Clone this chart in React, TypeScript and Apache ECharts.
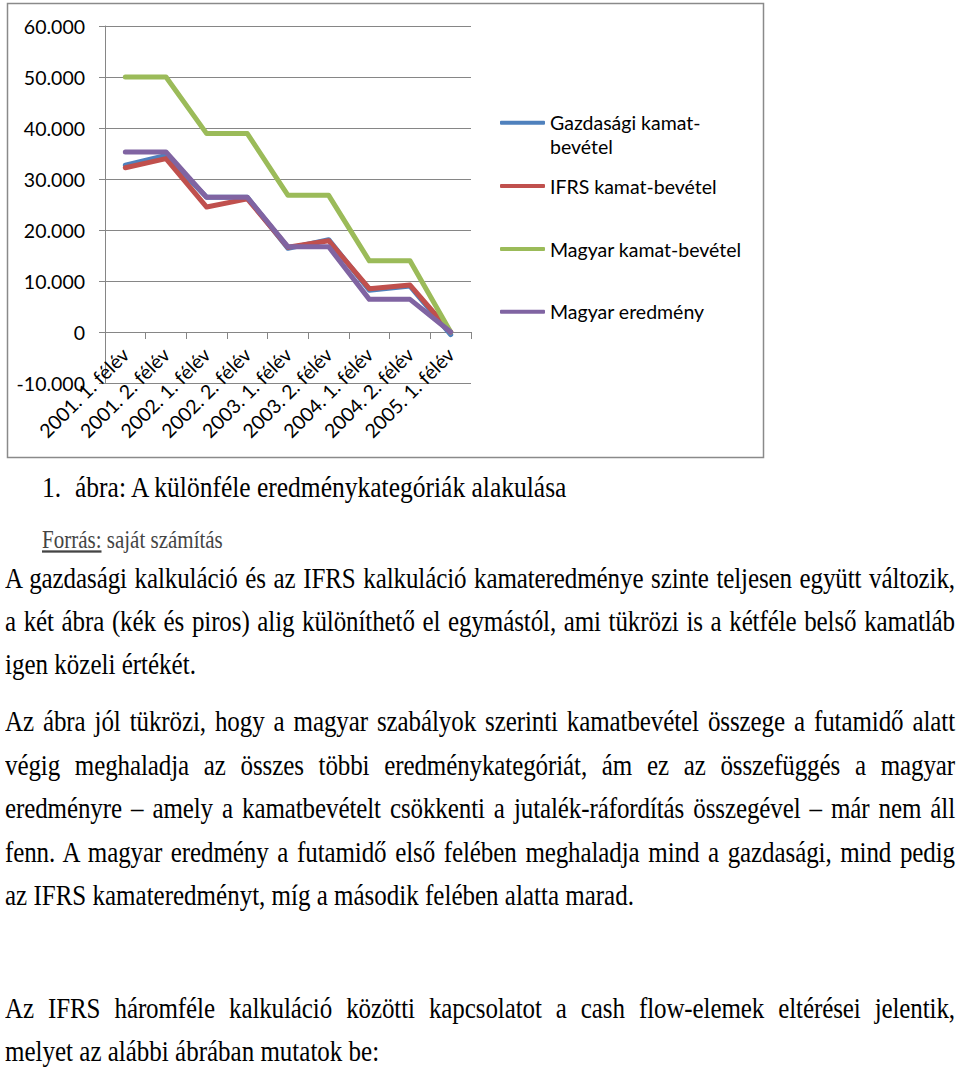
import React, { useEffect, useRef } from "react";
import * as echarts from "echarts";

const categories = [
  "2001. 1. félév",
  "2001. 2. félév",
  "2002. 1. félév",
  "2002. 2. félév",
  "2003. 1. félév",
  "2003. 2. félév",
  "2004. 1. félév",
  "2004. 2. félév",
  "2005. 1. félév",
];
const seriesNames = [
  "Gazdasági kamat-bevétel",
  "IFRS kamat-bevétel",
  "Magyar kamat-bevétel",
  "Magyar eredmény",
];
const gazdasagi = [32700, 34600, 26400, 26400, 16400, 18100, 8200, 9000, -500];
const ifrs = [32200, 34000, 24500, 26100, 16600, 17900, 8500, 9200, 0];
const magyarKamat = [50000, 50000, 38900, 38900, 26800, 26800, 13950, 13950, 0];
const magyarEredmeny = [35300, 35300, 26400, 26400, 16700, 16700, 6400, 6400, 0];
const seriesValues = [gazdasagi, ifrs, magyarKamat, magyarEredmeny];
const colors = ["#4F81BD", "#C0504D", "#9BBB59", "#8064A2"];

const caption = "ábra: A különféle eredménykategóriák alakulása";
const paragraphs: { text: string; justify: boolean; y: number }[][] = [
  [
    { text: "A gazdasági kalkuláció és az IFRS kalkuláció kamateredménye szinte teljesen együtt változik,", justify: true, y: 579 },
    { text: "a két ábra (kék és piros) alig különíthető el egymástól, ami tükrözi is a kétféle belső kamatláb", justify: true, y: 622 },
    { text: "igen közeli értékét.", justify: false, y: 665 },
  ],
  [
    { text: "Az ábra jól tükrözi, hogy a magyar szabályok szerinti kamatbevétel összege a futamidő alatt", justify: true, y: 722 },
    { text: "végig meghaladja az összes többi eredménykategóriát, ám ez az összefüggés a magyar", justify: true, y: 766 },
    { text: "eredményre – amely a kamatbevételt csökkenti a jutalék-ráfordítás összegével – már nem áll", justify: true, y: 809 },
    { text: "fenn. A magyar eredmény a futamidő első felében meghaladja mind a gazdasági, mind pedig", justify: true, y: 853 },
    { text: "az IFRS kamateredményt, míg a második felében alatta marad.", justify: false, y: 896 },
  ],
  [
    { text: "Az IFRS háromféle kalkuláció közötti kapcsolatot a cash flow-elemek eltérései jelentik,", justify: true, y: 1009 },
    { text: "melyet az alábbi ábrában mutatok be:", justify: false, y: 1052 },
  ],
];

const fmt = (v: number) => {
  if (v === 0) return "0";
  const s = Math.abs(v).toString().replace(/\B(?=(\d{3})+(?!\d))/g, ".");
  return (v < 0 ? "-" : "") + s;
};

const FONT = "Lato, 'Open Sans', sans-serif";

function Chart() {
  const ref = useRef<HTMLDivElement>(null);
  useEffect(() => {
    if (!ref.current) return;
    const chart = echarts.init(ref.current, undefined, { renderer: "svg" });
    const legendCenters = [122.7, 186, 249, 311.7];
    chart.setOption({
      animation: false,
      backgroundColor: "#ffffff",
      graphic: [
        {
          type: "rect",
          shape: { x: 7.5, y: 3.5, width: 756, height: 454 },
          style: { fill: "none", stroke: "#8a8a8a", lineWidth: 1.5 },
          silent: true,
        },
      ],
      grid: { left: 105, right: 489, top: 26, bottom: 77, containLabel: false, outerBoundsMode: "none" },
      legend: seriesNames.map((n, i) => ({
        data: [n],
        left: 500,
        top: i === 0 ? legendCenters[i] - 36 : legendCenters[i] - 12,
        orient: "vertical",
        padding: 0,
        itemGap: 0,
        itemWidth: 45,
        itemHeight: 4,
        icon: "roundRect",
        selectedMode: false,
        formatter: i === 0 ? " \nGazdasági kamat-\nbevétel" : "{name}",
        textStyle: {
          fontFamily: FONT,
          fontSize: 19.5,
          color: "#000",
          lineHeight: 24,
        },
      })),
      xAxis: {
        type: "category",
        data: categories,
        boundaryGap: true,
        axisLine: { onZero: true, lineStyle: { color: "#868686", width: 1 } },
        axisTick: { show: true, inside: false, length: 7, lineStyle: { color: "#868686" } },
        axisLabel: {
          rotate: 45,
          interval: 0,
          margin: -32,
          fontFamily: FONT,
          fontSize: 19.5,
          color: "#000",
        },
        splitLine: { show: false },
      },
      yAxis: {
        type: "value",
        min: -10000,
        max: 60000,
        interval: 10000,
        axisLine: { show: true, lineStyle: { color: "#868686", width: 1 } },
        axisTick: { show: true, length: 6, lineStyle: { color: "#868686" } },
        axisLabel: {
          margin: 20,
          fontFamily: FONT,
          fontSize: 19.5,
          color: "#000",
          formatter: (v: number) => fmt(v),
        },
        splitLine: { show: true, lineStyle: { color: "#868686", width: 1 } },
      },
      series: seriesNames.map((n, i) => ({
        name: n,
        type: "line",
        data: seriesValues[i],
        symbol: "none",
        color: colors[i],
        lineStyle: { width: 5, color: colors[i], cap: "round", join: "round" },
        z: 2 + i,
      })),
    });
    return () => chart.dispose();
  }, []);
  return <div ref={ref} style={{ position: "absolute", left: 0, top: 0, width: 960, height: 460 }} />;
}

const serif = "'Liberation Serif', 'Times New Roman', serif";

function Line({ text, justify, y, left = 5, size = 25, width = 950 }: any) {
  return (
    <div
      style={{
        position: "absolute",
        left,
        top: y - 22,
        width,
        height: 44,
        lineHeight: "44px",
        fontFamily: serif,
        fontSize: size,
        color: "#000",
        textAlign: justify ? "justify" : "left",
        textAlignLast: justify ? "justify" : "left",
        letterSpacing: justify ? "-0.1px" : undefined,
        whiteSpace: "nowrap",
        transform: "scaleY(1.15)",
        transformOrigin: "center",
      } as any}
    >
      {text}
    </div>
  );
}

export default function App() {
  return (
    <div style={{ position: "absolute", left: 0, top: 0, width: 960, height: 1069, background: "#fff", overflow: "hidden" }}>
      <Chart />
      <Line text="1." justify={false} y={488} left={42} size={25.5} width={40} />
      <Line text={caption} justify={false} y={488} left={75} size={25.5} width={700} />
      <div
        style={{
          position: "absolute",
          left: 42,
          top: 540 - 15,
          height: 30,
          lineHeight: "30px",
          fontFamily: serif,
          fontSize: 21,
          color: "#444",
          whiteSpace: "nowrap",
          transform: "scaleY(1.15)",
        }}
      >
        <span style={{ textDecoration: "underline" }}>Forrás:</span> saját számítás
      </div>
      {paragraphs.flat().map((l, i) => (
        <Line key={i} text={l.text} justify={l.justify} y={l.y} />
      ))}
    </div>
  );
}
